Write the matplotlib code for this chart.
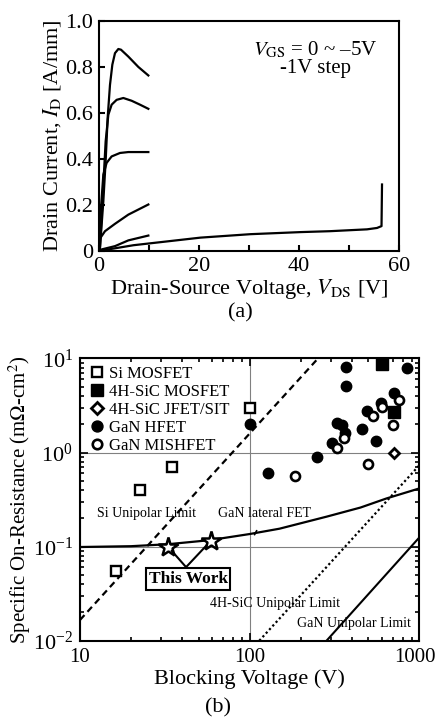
import matplotlib
matplotlib.use('Agg')
import matplotlib.pyplot as plt
import matplotlib.transforms as mtrans
from matplotlib.ticker import MultipleLocator, FuncFormatter

plt.rcParams['font.family'] = ['Liberation Serif', 'DejaVu Serif']
plt.rcParams['mathtext.fontset'] = 'stix'

# ---- (a) I-V curves, one list pair per VGS step ----
vds_0 = [0, 0.2, 0.87, 1.33, 1.73, 2.2, 2.67, 3.2, 3.87, 4.4, 5.87, 7.87, 9.87]
id_0 = [0, 0.015, 0.216, 0.39, 0.578, 0.722, 0.81, 0.86, 0.878, 0.875, 0.845, 0.80, 0.763]
vds_1 = [0, 0.2, 0.87, 1.33, 1.87, 2.53, 3.53, 4.87, 6.53, 8.2, 9.87]
id_1 = [0, 0.015, 0.289, 0.476, 0.592, 0.636, 0.657, 0.665, 0.653, 0.636, 0.618]
vds_2 = [0, 0.15, 0.4, 0.87, 1.53, 2.53, 4.2, 5.87, 7.87, 9.87]
id_2 = [0, 0.03, 0.188, 0.332, 0.383, 0.411, 0.426, 0.43, 0.43, 0.43]
vds_3 = [0, 0.07, 1.2, 3.2, 5.87, 9.87]
id_3 = [0, 0.05, 0.086, 0.118, 0.158, 0.202]
vds_4 = [0, 0.2, 3.2, 5.87, 9.87]
id_4 = [0, 0.005, 0.021, 0.046, 0.067]
vds_5 = [0, 6.9, 20.3, 30.3, 40.3, 46.2, 53.6, 55.6, 56.5, 56.6]
id_5 = [0, 0.025, 0.058, 0.073, 0.082, 0.086, 0.094, 0.10, 0.108, 0.289]

# ---- (b) benchmark data ----
si_mos_v = [100, 35, 22.6, 16.3]
si_mos_r = [3.0, 0.70, 0.40, 0.055]
sic_mos_v = [603, 711]
sic_mos_r = [8.7, 2.71]
sic_jfet_v = [708]
sic_jfet_r = [0.99]
hfet_v = [100, 370, 370, 849, 326, 348, 365, 304, 457, 556, 248, 129, 493, 592, 711]
hfet_r = [2.0, 8.15, 5.1, 7.94, 2.04, 1.95, 1.62, 1.25, 1.76, 1.32, 0.90, 0.61, 2.75, 3.33, 4.25]
mis_v = [185, 497, 326, 361, 535, 600, 755, 703]
mis_r = [0.56, 0.75, 1.12, 1.41, 2.44, 3.01, 3.6, 1.95]
work_v = [33, 59]
work_r = [0.10, 0.115]

si_lim_v = [10, 253]
si_lim_r = [0.0166, 10]
sic_lim_v = [114, 1000]
sic_lim_r = [0.01, 0.73]
gan_lim_v = [284, 1000]
gan_lim_r = [0.01, 0.125]
lat_v = [10, 20, 33, 58, 100, 150, 284, 450, 641, 1000]
lat_r = [0.099, 0.101, 0.106, 0.117, 0.136, 0.155, 0.208, 0.26, 0.325, 0.415]

fig = plt.figure(figsize=(4.38, 7.22), dpi=100)

# ------------------ (a) ------------------
ax1 = fig.add_axes([0.226, 0.6524, 0.685, 0.3186])
for v, i in [(vds_0, id_0), (vds_1, id_1), (vds_2, id_2),
             (vds_3, id_3), (vds_4, id_4), (vds_5, id_5)]:
    ax1.plot(v, i, color='black', lw=1.6)
ax1.set_xlim(0, 60)
ax1.set_ylim(0, 1.0)
ax1.xaxis.set_major_locator(MultipleLocator(20))
ax1.xaxis.set_minor_locator(MultipleLocator(10))
ax1.yaxis.set_major_locator(MultipleLocator(0.2))
ax1.yaxis.set_major_formatter(FuncFormatter(lambda y, p: '0' if abs(y) < 1e-9 else f'{y:.1f}'))
ax1.tick_params(which='both', direction='in', length=4, width=1.5, labelsize=16, pad=4)
for s in ax1.spines.values():
    s.set_linewidth(1.5)
ax1.set_xlabel('Drain-Source Voltage, $V_{\\mathrm{DS}}$ [V]', fontsize=16, labelpad=1)
ax1.set_ylabel('Drain Current, $I_{\\mathrm{D}}$ [A/mm]', fontsize=16, labelpad=2)
ax1.text(0.72, 0.835, '$V_{\\mathrm{GS}}$ = 0 ~ \u20135V\n-1V step', transform=ax1.transAxes,
         ha='center', va='center', fontsize=15, linespacing=0.9)
fig.text(0.548, 0.5665, '(a)', ha='center', va='center', fontsize=16)

# ------------------ (b) ------------------
ax2 = fig.add_axes([0.1826, 0.1126, 0.7747, 0.391])
ax2.set_xscale('log')
ax2.set_yscale('log')
ax2.grid(True, which='major', color='gray', lw=0.8)

ax2.plot(si_lim_v, si_lim_r, color='black', lw=1.6, ls=(0, (3, 2)))
ax2.plot(sic_lim_v, sic_lim_r, color='black', lw=1.6, ls=(0, (1, 1.2)))
ax2.plot(gan_lim_v, gan_lim_r, color='black', lw=1.5)
ax2.plot(lat_v, lat_r, color='black', lw=1.6)

ax2.plot(si_mos_v, si_mos_r, 's', ms=6.5, mfc='white', mec='black', mew=1.7, ls='none', label='Si MOSFET')
ax2.plot(sic_mos_v, sic_mos_r, 's', ms=8, mfc='black', mec='black', ls='none', label='4H-SiC MOSFET')
ax2.plot(sic_jfet_v, sic_jfet_r, 'D', ms=5.5, mfc='white', mec='black', mew=2.0, ls='none', label='4H-SiC JFET/SIT')
ax2.plot(hfet_v, hfet_r, 'o', ms=7.5, mfc='black', mec='black', ls='none', label='GaN HFET')
ax2.plot(mis_v, mis_r, 'o', ms=6.5, mfc='white', mec='black', mew=1.9, ls='none', label='GaN MISHFET')
ax2.plot(work_v, work_r, '*', ms=15, mfc='white', mec='black', mew=1.8, ls='none')

leg = ax2.legend(loc='upper left', bbox_to_anchor=(0.0, 1.01), frameon=False, fontsize=12,
                 handlelength=0.8, handletextpad=0.35, labelspacing=0.12, borderaxespad=0.2,
                 markerscale=1.05)

ax2.set_xticks([10, 100, 1000])
ax2.set_xticklabels(['10', '100', '1000'])
ax2.set_xlim(10, 1000)
ax2.set_ylim(0.01, 10)
ax2.tick_params(which='both', direction='in', top=True, right=True, width=1.2)
ax2.tick_params(which='major', length=6, labelsize=16, pad=5)
ax2.tick_params(which='minor', length=3)
ax2.tick_params(axis='x', labelsize=15)
for s in ax2.spines.values():
    s.set_linewidth(1.5)
ax2.set_xlabel('Blocking Voltage (V)', fontsize=16, labelpad=2)
ax2.set_ylabel('Specific On-Resistance (m$\\Omega$-cm$^2$)', fontsize=15, labelpad=0)

# nudge the "1000" label left so it stays inside the figure
lab = ax2.xaxis.get_major_ticks()[-1].label1
lab.set_transform(lab.get_transform() + mtrans.ScaledTranslation(-3 / 72, 0, fig.dpi_scale_trans))

ax2.text(24.5, 0.227, 'Si Unipolar Limit', ha='center', va='center', fontsize=10)
ax2.text(123, 0.227, 'GaN lateral FET', ha='center', va='center', fontsize=10)
ax2.annotate('', xy=(105, 0.126), xytext=(112, 0.157),
             arrowprops=dict(arrowstyle='-', color='black', lw=1.2))
ax2.text(141, 0.0251, '4H-SiC Unipolar Limit', ha='center', va='center', fontsize=10)
ax2.text(412, 0.0154, 'GaN Unipolar Limit', ha='center', va='center', fontsize=10)
ax2.text(43.4, 0.0452, 'This Work', ha='center', va='center', fontsize=12.5, fontweight='bold',
         bbox=dict(boxstyle='square,pad=0.15', fc='white', ec='black', lw=1.5))
for wv, wr in zip(work_v, work_r):
    ax2.annotate('', xy=(wv, wr), xytext=(42.2, 0.0605),
                 arrowprops=dict(arrowstyle='-', color='black', lw=1.5, shrinkA=0, shrinkB=4))
fig.text(0.498, 0.0194, '(b)', ha='center', va='center', fontsize=16)

fig.savefig('out.png', dpi=100)
